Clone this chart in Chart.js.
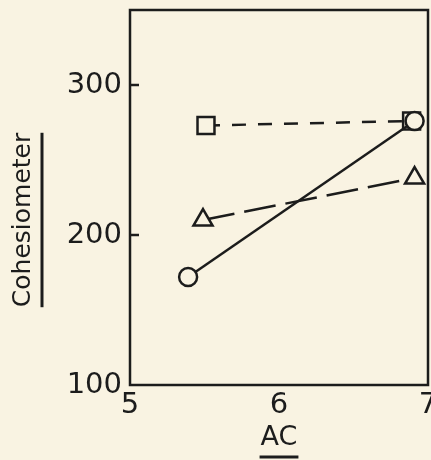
<!DOCTYPE html>
<html>
<head>
<meta charset="utf-8">
<script src="https://cdn.jsdelivr.net/npm/chart.js@4.4.0/dist/chart.umd.min.js"></script>
<style>
  html, body { margin: 0; padding: 0; background: #f9f3e2; }
  #wrap { width: 431px; height: 460px; }
</style>
</head>
<body>
<div id="wrap"><canvas id="cohChart" width="431" height="460"></canvas></div>
<script>
// values
const squareAC = [5.51, 6.89];
const squareCoh = [273, 276];
const circleAC = [5.39, 6.91];
const circleCoh = [172, 276];
const triangleAC = [5.49, 6.91];
const triangleCoh = [210, 238];
const xTicks = [5, 6, 7];
const yTicks = [100, 200, 300];
const xTitle = 'AC';
const yTitle = 'Cohesiometer';

const ink = '#1c1c1c';
const fontFam = '"DejaVu Sans", sans-serif';

const toPoints = (xs, ys) => xs.map((x, i) => ({ x, y: ys[i] }));

// box round the plot, inner ticks, underlined axis titles
const frame = {
  id: 'frame',
  afterDraw(chart) {
    const { ctx, chartArea: a, scales } = chart;
    ctx.save();
    ctx.strokeStyle = ink;
    ctx.lineWidth = 2.5;
    ctx.strokeRect(a.left, a.top, a.right - a.left, a.bottom - a.top);
    // short ticks inside the left axis
    yTicks.slice(1).forEach((v) => {
      const py = scales.y.getPixelForValue(v);
      ctx.beginPath();
      ctx.moveTo(a.left, py);
      ctx.lineTo(a.left + 9, py);
      ctx.stroke();
    });
    ctx.fillStyle = ink;
    ctx.textAlign = 'center';
    ctx.textBaseline = 'middle';
    // x title
    ctx.font = '27px ' + fontFam;
    const xw = ctx.measureText(xTitle).width;
    const xc = scales.x.getPixelForValue(6);
    ctx.fillText(xTitle, xc, 438);
    ctx.lineWidth = 3;
    ctx.beginPath();
    ctx.moveTo(xc - xw / 2 - 1, 457);
    ctx.lineTo(xc + xw / 2 + 1, 457);
    ctx.stroke();
    // y title, rotated
    ctx.save();
    ctx.translate(23, 220);
    ctx.rotate(-Math.PI / 2);
    ctx.font = '25px ' + fontFam;
    const yw = Math.min(ctx.measureText(yTitle).width, 176);
    ctx.fillText(yTitle, 0, 0, 176);
    ctx.beginPath();
    ctx.moveTo(-yw / 2, 19);
    ctx.lineTo(yw / 2, 19);
    ctx.stroke();
    ctx.restore();
    ctx.restore();
  },
};

const cohChart = new Chart(document.querySelector('#cohChart').getContext('2d'), {
  type: 'scatter',
  data: {
    datasets: [
      {
        label: 'circle',
        data: toPoints(circleAC, circleCoh),
        showLine: true,
        pointStyle: 'circle',
        pointRadius: 9,
      },
      {
        label: 'square',
        data: toPoints(squareAC, squareCoh),
        showLine: true,
        borderDash: [14, 12],
        pointStyle: 'rect',
        pointRadius: 12,
      },
      {
        label: 'triangle',
        data: toPoints(triangleAC, triangleCoh),
        showLine: true,
        borderDash: [32, 10],
        pointStyle: 'triangle',
        pointRadius: 11,
      },
    ].map((d) => ({
      ...d,
      borderColor: ink,
      borderWidth: 2.5,
      pointBorderWidth: 2.5,
      pointBackgroundColor: '#f9f3e2',
      pointBorderColor: ink,
    })),
  },
  options: {
    responsive: false,
    animation: false,
    events: [],
    layout: { autoPadding: false, padding: { top: 10, right: 3, left: 0, bottom: 0 } },
    plugins: { legend: { display: false }, tooltip: { enabled: false } },
    scales: {
      x: {
        type: 'linear',
        min: 5,
        max: 7,
        afterBuildTicks: (s) => { s.ticks = xTicks.map((v) => ({ value: v })); },
        afterFit: (s) => { s.height = 75; s.paddingLeft = 0; s.paddingRight = 0; },
        grid: { display: false, drawTicks: false },
        border: { display: false },
        ticks: { color: ink, padding: 3, maxRotation: 0, font: { family: fontFam, size: 29 } },
      },
      y: {
        min: 100,
        max: 350,
        afterBuildTicks: (s) => { s.ticks = yTicks.map((v) => ({ value: v })); },
        afterFit: (s) => { s.width = 130; s.paddingTop = 0; s.paddingBottom = 0; },
        grid: { display: false, drawTicks: false },
        border: { display: false },
        ticks: { color: ink, padding: 8, font: { family: fontFam, size: 29 } },
      },
    },
  },
  plugins: [frame],
});
</script>
</body>
</html>
